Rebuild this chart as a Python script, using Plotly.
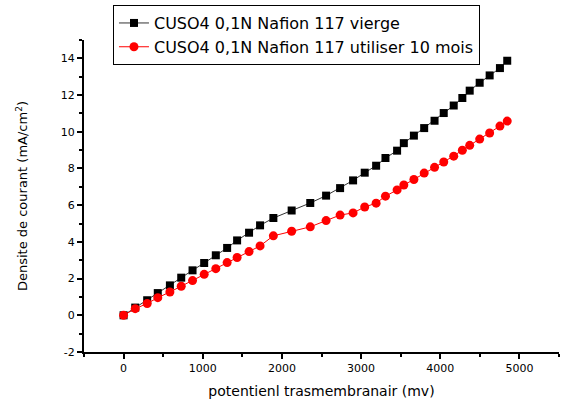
import plotly.graph_objects as go

potential_mv = [0, 147, 298, 432, 585, 728, 871, 1018, 1165, 1308, 1434, 1585, 1724, 1892,
                2123, 2358, 2558, 2735, 2899, 3046, 3190, 3308, 3455, 3540, 3667, 3797,
                3928, 4044, 4170, 4279, 4372, 4498, 4624, 4754, 4846]
vierge = [0, 0.42, 0.82, 1.21, 1.63, 2.05, 2.45, 2.85, 3.27, 3.67, 4.08, 4.5, 4.9, 5.3,
          5.71, 6.12, 6.52, 6.93, 7.35, 7.77, 8.15, 8.57, 8.97, 9.38, 9.79, 10.2,
          10.6, 11.02, 11.43, 11.84, 12.24, 12.67, 13.07, 13.47, 13.87]
utilise = [0, 0.36, 0.64, 0.96, 1.27, 1.58, 1.89, 2.23, 2.54, 2.87, 3.15, 3.47, 3.78, 4.33,
           4.58, 4.82, 5.16, 5.46, 5.58, 5.9, 6.11, 6.49, 6.83, 7.1, 7.4, 7.75,
           8.06, 8.35, 8.67, 8.99, 9.26, 9.6, 9.93, 10.31, 10.58]

name_vierge = "CUSO4 0,1N Nafion 117 vierge"
name_utilise = "CUSO4 0,1N Nafion 117 utiliser 10 mois"
x_title = "potentienl trasmembranair (mv)"
y_title = "Densite de courant (mA/cm<sup>2</sup>)"
x_ticks = [0, 1000, 2000, 3000, 4000, 5000]
y_ticks = [-2, 0, 2, 4, 6, 8, 10, 12, 14]
y_ticklabels = ["-2", "0", "2", "4", "6", "8", "10", "12", "14"]

FONT = "DejaVu Sans, Liberation Sans, Arial, sans-serif"

fig = go.Figure()
fig.add_trace(go.Scatter(
    x=potential_mv, y=vierge, name=name_vierge, mode="lines+markers",
    line=dict(color="#333333", width=1),
    marker=dict(symbol="square", size=8, color="black"),
))
fig.add_trace(go.Scatter(
    x=potential_mv, y=utilise, name=name_utilise, mode="lines+markers",
    line=dict(color="red", width=1),
    marker=dict(symbol="circle", size=9, color="red"),
))

axis_common = dict(
    showgrid=False, zeroline=False, showline=True, linecolor="black", linewidth=2,
    ticks="outside", ticklen=5, tickwidth=1.5, tickcolor="black",
    tickfont=dict(family=FONT, size=11, color="black"),
    mirror=False, automargin=False,
)
fig.update_xaxes(
    range=[-500, 5500], tickvals=x_ticks,
    minor=dict(dtick=500, tick0=0, ticks="outside", ticklen=3, tickcolor="black"),
    title=dict(text=x_title, font=dict(family=FONT, size=14, color="black"), standoff=12),
    **axis_common,
)
fig.update_yaxes(
    range=[-2, 15], tickvals=y_ticks, ticktext=y_ticklabels,
    minor=dict(dtick=1, tick0=0, ticks="outside", ticklen=3, tickcolor="black"),
    title=dict(text=y_title, font=dict(family=FONT, size=13, color="black"), standoff=30),
    **axis_common,
)

fig.update_layout(
    width=563, height=403,
    margin=dict(l=84, r=4, t=40, b=51),
    paper_bgcolor="white", plot_bgcolor="white",
    font=dict(family=FONT, color="black"),
    legend=dict(
        x=0.061, y=1.112, xanchor="left", yanchor="top",
        bgcolor="white", bordercolor="black", borderwidth=1,
        font=dict(family=FONT, size=16, color="black"),
        tracegroupgap=0, itemwidth=30,
    ),
)

fig.write_html("out.html", config={"displayModeBar": False},
               post_script="document.body.style.margin='0';")
